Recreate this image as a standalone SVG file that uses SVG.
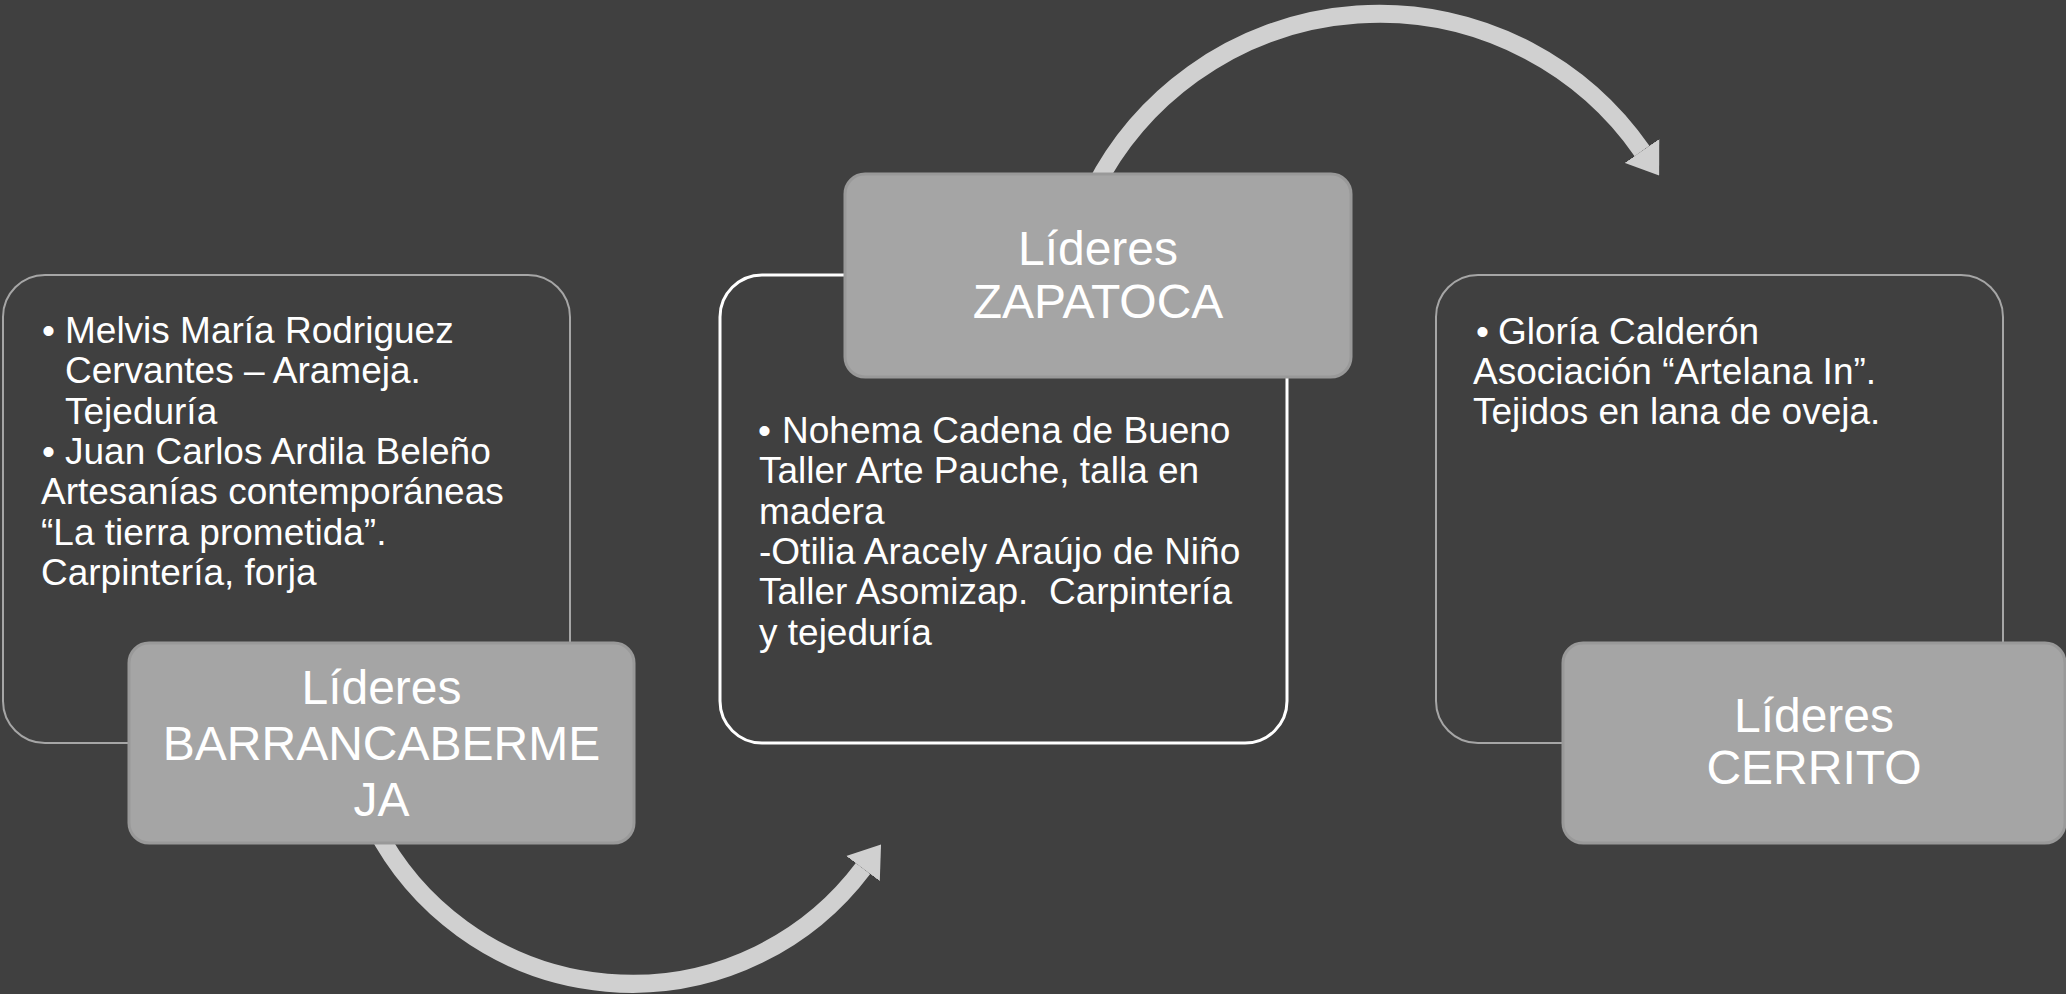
<svg xmlns="http://www.w3.org/2000/svg" width="2066" height="994" viewBox="0 0 2066 994">
<defs>
<style>
.bg{fill:#404040}
.outer{fill:#404040;stroke:#a6a6a6;stroke-width:2}
.outer-w{fill:#404040;stroke:#ffffff;stroke-width:3}
.lead{fill:#a5a5a5;stroke:#999999;stroke-width:3}
.body{font-family:"Liberation Sans",Arial,sans-serif;font-size:37px;fill:#ffffff;white-space:pre}
.head{font-family:"Liberation Sans",Arial,sans-serif;font-size:48px;fill:#ffffff;text-anchor:middle}
.arc{fill:none;stroke:#d0d0d0;stroke-width:18}
</style>
<marker id="ah" markerUnits="userSpaceOnUse" viewBox="0 0 30 42" refX="0" refY="21" markerWidth="30" markerHeight="42" orient="auto">
<path d="M0,0 L30,21 L0,42 Z" fill="#d0d0d0"/>
</marker>
</defs>
<rect class="bg" x="0" y="0" width="2066" height="994"/>

<g id="connectors">
<path class="arc" d="M374.5,826 A289,289 0 0 0 863,868.5" marker-end="url(#ah)"/>
<path class="arc" d="M1094,189 A320,320 0 0 1 1642,151" marker-end="url(#ah)"/>
</g>

<g id="node-barrancabermeja">
<rect class="outer" x="3" y="275" width="567" height="468" rx="42"/>
<text class="body" x="42" y="343">•</text>
<text class="body" x="65" y="343">Melvis María Rodriguez</text>
<text class="body" x="65" y="383.3">Cervantes – Arameja.</text>
<text class="body" x="65" y="423.6">Tejeduría</text>
<text class="body" x="42" y="463.9">•</text>
<text class="body" x="65" y="463.9">Juan Carlos Ardila Beleño</text>
<text class="body" x="41" y="504.2">Artesanías contemporáneas</text>
<text class="body" x="41" y="544.5">“La tierra prometida”.</text>
<text class="body" x="41" y="584.8">Carpintería, forja</text>
<rect class="lead" x="129" y="643" width="505" height="200" rx="20"/>
<text class="head" x="381.5" y="704">Líderes</text>
<text class="head" x="381.5" y="760">BARRANCABERME</text>
<text class="head" x="381.5" y="816">JA</text>
</g>

<g id="node-zapatoca">
<rect class="outer-w" x="720" y="275" width="567" height="468" rx="42"/>
<text class="body" x="758" y="443">•</text>
<text class="body" x="782" y="443">Nohema Cadena de Bueno</text>
<text class="body" x="759" y="483.3">Taller Arte Pauche, talla en</text>
<text class="body" x="759" y="523.6">madera</text>
<text class="body" x="759" y="563.9">-Otilia Aracely Araújo de Niño</text>
<text class="body" x="759" y="604.2">Taller Asomizap.  Carpintería</text>
<text class="body" x="759" y="644.5">y tejeduría</text>
<rect class="lead" x="845" y="174" width="506" height="203" rx="20"/>
<text class="head" x="1098" y="265">Líderes</text>
<text class="head" x="1098" y="318">ZAPATOCA</text>
</g>

<g id="node-cerrito">
<rect class="outer" x="1436" y="275" width="567" height="468" rx="42"/>
<text class="body" x="1476" y="343.5">•</text>
<text class="body" x="1498" y="343.5">Gloría Calderón</text>
<text class="body" x="1473" y="384">Asociación “Artelana In”.</text>
<text class="body" x="1473" y="424.3">Tejidos en lana de oveja.</text>
<rect class="lead" x="1563" y="643" width="502" height="200" rx="20"/>
<text class="head" x="1814" y="731.5">Líderes</text>
<text class="head" x="1814" y="784">CERRITO</text>
</g>
</svg>
